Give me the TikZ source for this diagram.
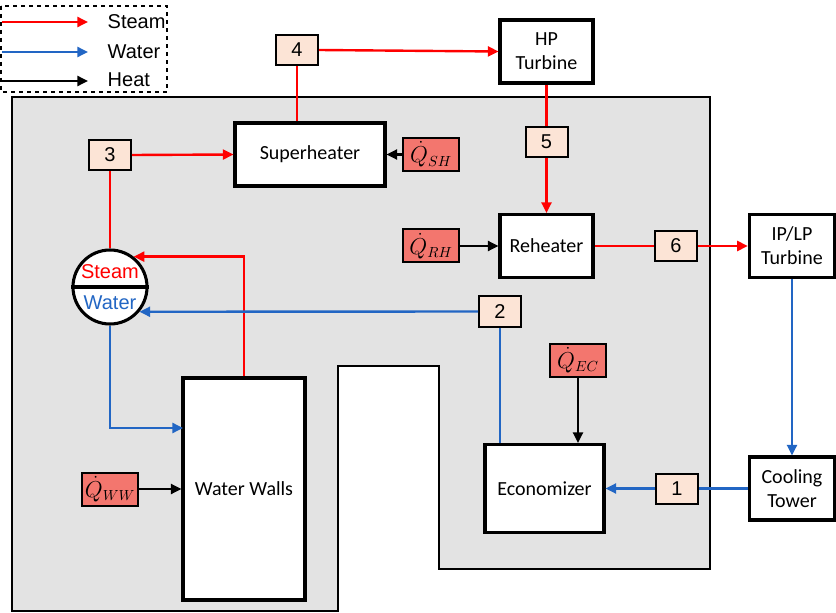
\documentclass[tikz,border=0pt]{standalone}
\usepackage{fontspec}
\setmainfont{Carlito}
\newfontfamily\arialfont{Liberation Sans}
\usetikzlibrary{arrows.meta}

\definecolor{steamred}{HTML}{FF0000}
\definecolor{waterblue}{HTML}{2266C4}
\definecolor{boilergray}{HTML}{E3E3E3}
\definecolor{statefill}{HTML}{FCE4D6}
\definecolor{heatfill}{HTML}{F3766E}

\tikzset{
  unit/.style={draw, line width=2.3pt, fill=white, align=center, inner sep=0pt,
    font=\fontsize{15}{18}\selectfont},
  state/.style={draw, line width=1.5pt, fill=statefill, inner sep=0pt,
    minimum width=31.5pt, minimum height=22.5pt, font=\arialfont\fontsize{15}{18}\selectfont},
  heatin/.style={draw, line width=1.5pt, fill=heatfill, inner sep=0pt,
    minimum width=42pt, minimum height=24.75pt, font=\fontsize{16}{18}\selectfont},
  steam/.style={steamred, line width=1.8pt},
  water/.style={waterblue, line width=1.8pt},
  heat/.style={black, line width=1.8pt},
}

\begin{document}
\begin{tikzpicture}[>={Stealth[inset=0pt,length=8pt,width=7.5pt]}, x=0.75pt, y=-0.75pt]
\useasboundingbox (0,0) rectangle (836,613);

% boiler casing
\draw[fill=boilergray, line width=1.4pt] (12,97) -- (710,97) -- (710,569) -- (439,569)
  -- (439,366) -- (338,366) -- (338,611) -- (12,611) -- cycle;

% legend
\draw[dashed, line width=1pt] (1,6) rectangle (167,92);
\draw[steam,->] (2,22) -- (88,22);
\draw[water,->] (2,52) -- (88,52);
\draw[heat,->] (2,81) -- (88,81);
\node[anchor=west, font=\arialfont\fontsize{15}{18}\selectfont] (lsteam) at (103,22) {Steam};
\node[anchor=west, font=\arialfont\fontsize{15}{18}\selectfont] (lwater) at (103,52) {Water};
\node[anchor=west, font=\arialfont\fontsize{15}{18}\selectfont] (lheat) at (103,80) {Heat};

% units
\node[unit, minimum width=112.5pt, minimum height=47.25pt] (sh) at (310,154.5) {Superheater};
\node[unit, minimum width=69.75pt, minimum height=47.25pt] (hp) at (546.5,51.5) {HP\\Turbine};
\node[unit, minimum width=69.75pt, minimum height=47.25pt] (rh) at (546.5,246) {Reheater};
\node[unit, minimum width=64pt, minimum height=47.25pt] (iplp) at (792,246) {IP/LP\\Turbine};
\node[unit, minimum width=64pt, minimum height=47.25pt] (ct) at (792,488.5) {Cooling\\Tower};
\node[unit, minimum width=89.25pt, minimum height=66pt] (eco) at (544.5,488.5) {Economizer};
\node[unit, minimum width=91.5pt, minimum height=166.5pt] (ww) at (244,489) {Water Walls};

% drum
\node[draw, circle, line width=2.3pt, fill=white, minimum size=55.5pt, inner sep=0pt] (drum) at (110,287) {};
\draw[line width=2.3pt] (drum.west) -- (drum.east);
\node[steamred, font=\arialfont\fontsize{15}{18}\selectfont] (dsteam) at (110,272) {Steam};
\node[waterblue, font=\arialfont\fontsize{15}{18}\selectfont] (dwater) at (110,303) {Water};

% state points
\node[state] (s1) at (677,488.5) {1};
\node[state] (s2) at (500,311.5) {2};
\node[state] (s3) at (110,155) {3};
\node[state] (s4) at (297,50) {4};
\node[state] (s5) at (546.5,142) {5};
\node[state] (s6) at (676,246) {6};

% heat inputs
\node[heatin] (qsh) at (431,154.5) {$\dot{Q}_{SH}$};
\node[heatin] (qrh) at (431,246) {$\dot{Q}_{RH}$};
\node[heatin] (qec) at (578,360) {$\dot{Q}_{EC}$};
\node[heatin] (qww) at (110,489) {$\dot{Q}_{WW}$};

% steam side
\draw[steam] (drum.north) -- (s3.south);
\draw[steam,->] (s3.east) -- (sh.west);
\draw[steam] (s4.south) -- (s4.south |- sh.north);
\draw[steam,->] (s4.east) -- (hp.west);
\draw[steam] (hp.south) -- (s5.north);
\draw[steam,->] (s5.south) -- (rh.north);
\draw[steam] (rh.east) -- (s6.west);
\draw[steam,->] (s6.east) -- (iplp.west);
\draw[steam,->] (ww.north) |- (drum.52);

% water side
\draw[water,->] (iplp.south) -- (ct.north);
\draw[water] (ct.west) -- (s1.east);
\draw[water,->] (s1.west) -- (eco.east);
\draw[water] (s2.south) -- (s2.south |- eco.north);
\draw[water,->] (s2.west) -- (drum.-40);
\coordinate (wwin) at (183,428);
\draw[water,->] (drum.south) |- (wwin);

% heat
\draw[heat,->] (qsh.west) -- (sh.east);
\draw[heat,->] (qrh.east) -- (rh.west);
\draw[heat,->] (qec.south) -- (qec.south |- eco.north);
\draw[heat,->] (qww.east) -- (qww.east -| ww.west);
\end{tikzpicture}
\end{document}
